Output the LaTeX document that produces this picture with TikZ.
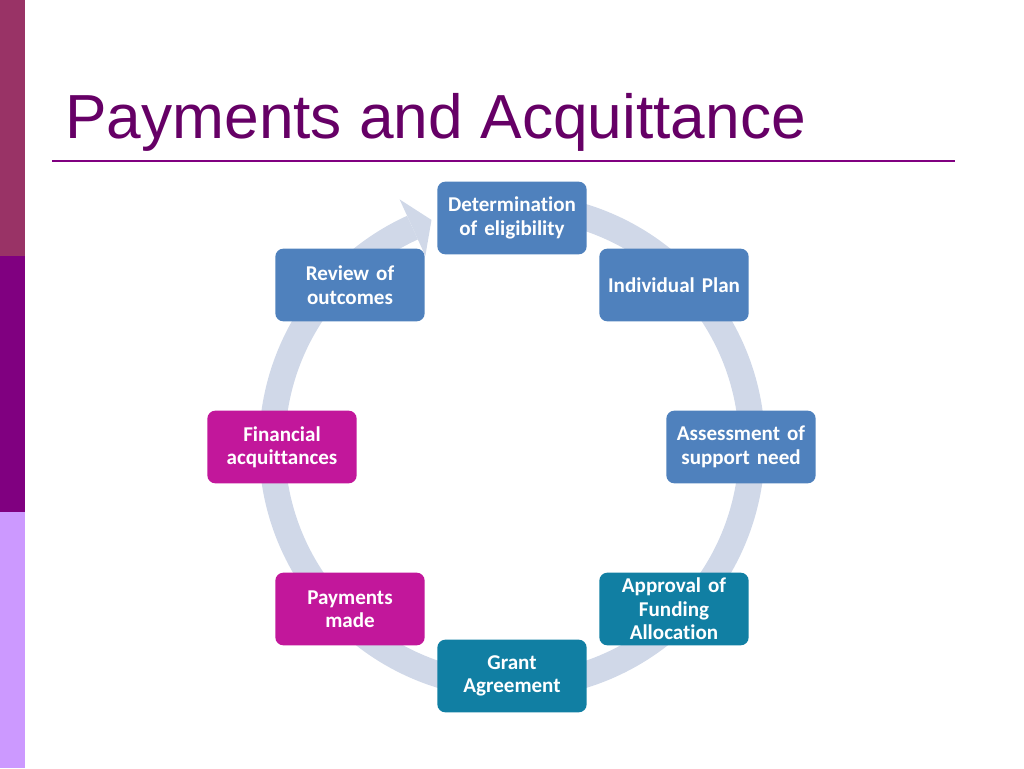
\documentclass[tikz,border=0pt]{standalone}
\usepackage{fontspec}
\setmainfont{Carlito}[Ligatures={NoCommon}]
\newfontfamily\titlefont{Liberation Sans}
\usetikzlibrary{calc}
\definecolor{barA}{HTML}{993366}
\definecolor{barB}{HTML}{800080}
\definecolor{barC}{HTML}{CC99FF}
\definecolor{titlec}{HTML}{660066}
\definecolor{rulec}{HTML}{800080}
\definecolor{ringc}{HTML}{D0D8E8}
\definecolor{blueb}{HTML}{4F81BD}
\definecolor{tealb}{HTML}{117FA3}
\definecolor{pinkb}{HTML}{C2179B}
\tikzset{stagebox/.style={rectangle, rounded corners=6pt, minimum width=112pt, minimum height=54.5pt, text width=104pt, align=center, inner sep=2pt, text=white, font=\bfseries\fontsize{15.8}{17.6}\selectfont}}

\begin{document}
\begin{tikzpicture}[x=0.75pt,y=-0.75pt]
\useasboundingbox (0,0) rectangle (1024,768);
\fill[barA] (0,0) rectangle (25,256);
\fill[barB] (0,256) rectangle (25,512);
\fill[barC] (0,512) rectangle (25,768);
\node[anchor=base west, inner sep=0, text=titlec, font=\titlefont\fontsize{46.7}{56}\selectfont] (title) at (65,138) {Payments and Acquittance};
\coordinate (ruleL) at (52,161);
\coordinate (ruleR) at (955,161);
\draw[rulec, line width=1.5pt] (ruleL) -- (ruleR);
\coordinate (O) at (512,446);
\begin{scope}[shift={(O)}, yscale=-1]
 \draw[ringc, line width=19.5pt] (80:240) arc[start angle=80, end angle=-245.5, radius=240];
 \fill[ringc] (114.5:271) -- (109.6:240) -- (114.5:209) -- cycle;
\end{scope}
\foreach \n/\x/\y/\c/\t in {det/512/218/blueb/{Determination\\of eligibility}, plan/674/285/blueb/{Individual Plan}, need/741/447/blueb/{Assessment of\\support need}, appr/674/609/tealb/{Approval of\\Funding\\Allocation}, grant/512/676/tealb/{Grant\\Agreement}, paid/350/609/pinkb/{Payments\\made}, acq/282/447/pinkb/{Financial\\acquittances}, rev/350/285/blueb/{Review of\\outcomes}} {
 \node[stagebox, fill=\c] (\n) at (\x,\y) {\t};
}
\end{tikzpicture}
\end{document}
